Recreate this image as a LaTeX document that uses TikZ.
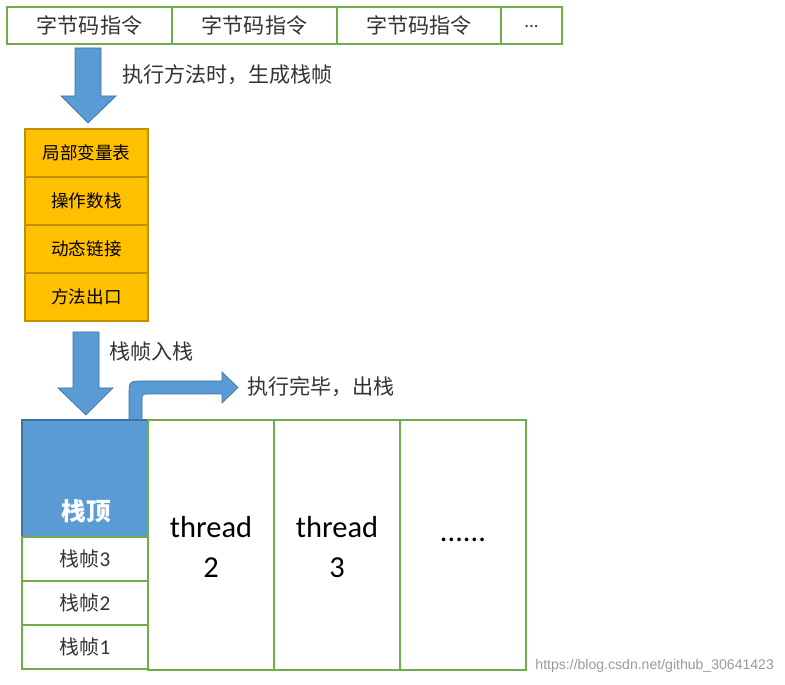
\documentclass[tikz,border=0pt]{standalone}
\usepackage{fontspec}
\setmainfont{Noto Sans CJK SC}
\newfontfamily\latfont{Carlito}
\newfontfamily\wmfont{Liberation Sans}
\usepackage{xcolor}
\definecolor{mygreen}{HTML}{70AD47}
\definecolor{myorange}{HTML}{FFC000}
\definecolor{myorangedark}{HTML}{C09000}
\definecolor{myblue}{HTML}{5B9BD5}
\definecolor{mybluedark}{HTML}{41719C}
\usepackage{tikz}

\begin{document}
\begin{tikzpicture}[x=0.03cm, y=-0.03cm,
    cell/.style={draw=mygreen, line width=1.5pt},
    slot/.style={draw=myorangedark, fill=myorange, line width=1.2pt},
    blockarrow/.style={fill=myblue, draw=mybluedark, line width=0.6pt},
    label/.style={text=black!80, font=\fontsize{18}{20}\selectfont},
    slottext/.style={text=black, font=\fontsize{15}{17}\selectfont},
    big/.style={align=center, font=\latfont\fontsize{26}{34}\selectfont}]
  \useasboundingbox (0,0) rectangle (785,685);

  \draw[cell] (7,7) rectangle (172,44) (172,7) rectangle (337,44)
              (337,7) rectangle (501,44) (501,7) rectangle (562,44);
  \node[label] (bc1) at (89.5,25.5) {字节码指令};
  \node[label] (bc2) at (254.5,25.5) {字节码指令};
  \node[label] (bc3) at (419,25.5) {字节码指令};
  \node[label, font=\latfont\fontsize{16}{18}\selectfont] (bcdots) at (531.5,27) {...};

  \draw[blockarrow] (75,48) -- (101,48) -- (101,96) -- (116,96) -- (88,123)
                    -- (61,96) -- (75,96) -- cycle;
  \node[label, anchor=west] (make) at (118,75) {执行方法时，生成栈帧};

  \foreach \y/\t [count=\i] in {129/局部变量表,177/操作数栈,225/动态链接,273/方法出口}{
    \draw[slot] (25,\y) rectangle (148,\y+48);
    \node[slottext] (f\i) at (86.5,\y+24) {\t};
  }

  \draw[blockarrow] (73,332) -- (99,332) -- (99,388) -- (113,388) -- (86,415)
                    -- (58,388) -- (73,388) -- cycle;
  \node[label, anchor=west] (push) at (105,352) {栈帧入栈};

  \draw[blockarrow] (129,420) -- (129,396) .. controls (129,381) .. (144,381)
                    -- (222,381) -- (222,372) -- (238,387.5) -- (222,403)
                    -- (222,394) -- (149,394) .. controls (142,394) .. (142,401)
                    -- (142,420) -- cycle;
  \node[label, anchor=west] (pop) at (243,387) {执行完毕，出栈};

  \draw[fill=myblue, draw=mybluedark, line width=1pt] (22,420) rectangle (148,537);
  \node[text=white, font=\bfseries\fontsize{21}{23}\selectfont] (top) at (86,511) {栈顶};
  \foreach \y/\n in {537/3,581/2,625/1}{
    \draw[cell] (22,\y) rectangle (148,\y+44);
    \node[label, font=\fontsize{17}{19}\selectfont] (s\n) at (85,\y+22)
      {栈帧{\latfont\fontsize{18}{20}\selectfont\n}};
  }

  \draw[cell] (148,420) rectangle (274,670) (274,420) rectangle (400,670)
              (400,420) rectangle (526,670);
  \node[big] (t2) at (211,547) {thread\\2};
  \node[big] (t3) at (337,547) {thread\\3};
  \node[big] (tdots) at (463,540) {......};

  \node[anchor=east, text=black!40, font=\wmfont\fontsize{12}{14}\selectfont] (wm)
    at (778,666) {https://blog.csdn.net/github\_30641423};
\end{tikzpicture}
\end{document}
